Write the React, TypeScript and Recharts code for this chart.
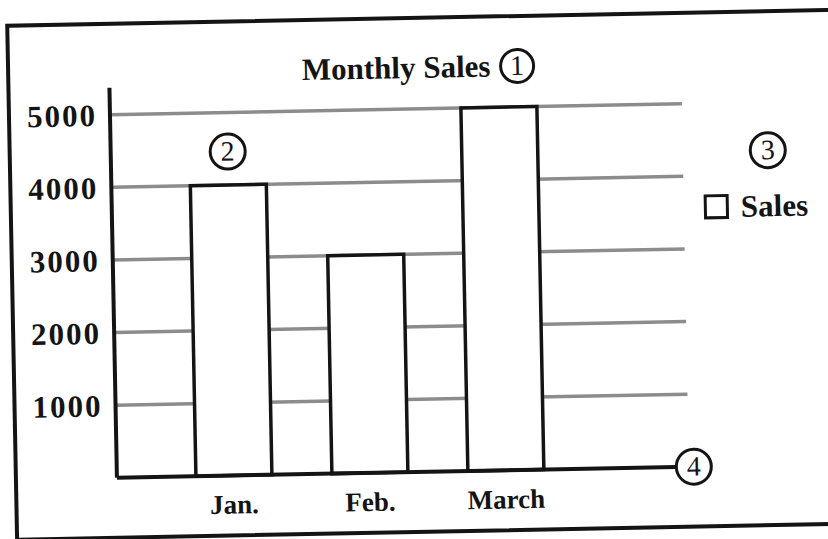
import React from 'react';
import { BarChart, Bar, XAxis, YAxis, CartesianGrid, Legend } from 'recharts';

const categories = ['Jan.', 'Feb.', 'March'];
const salesValues = [4000, 3000, 5000];
const yTicks = [1000, 2000, 3000, 4000, 5000];
const seriesName = 'Sales';
const chartTitle = 'Monthly Sales';

const data = categories.map((month, i) => ({ month, sales: salesValues[i] }));

const FONT = '"Liberation Serif", "Times New Roman", serif';
const INK = '#141414';

const Circled = ({ n, cx, cy, r }: { n: string; cx: number; cy: number; r: number }) => (
  <div
    style={{
      position: 'absolute',
      left: cx - r,
      top: cy - r,
      width: 2 * r,
      height: 2 * r,
      boxSizing: 'border-box',
      border: `3.5px solid ${INK}`,
      borderRadius: '50%',
      background: '#fff',
      display: 'flex',
      alignItems: 'center',
      justifyContent: 'center',
      fontFamily: FONT,
      fontSize: 28,
      color: INK,
      lineHeight: 1,
    }}
  >
    {n}
  </div>
);

const renderLegend = () => (
  <div style={{ display: 'flex', alignItems: 'center', fontFamily: FONT, color: INK }}>
    <div
      style={{
        width: 25,
        height: 25,
        boxSizing: 'border-box',
        border: `3px solid ${INK}`,
        background: '#fff',
        marginRight: 12,
      }}
    />
    <span style={{ fontSize: 31, fontWeight: 'bold', lineHeight: 1 }}>{seriesName}</span>
  </div>
);

export default function App() {
  return (
    <div
      style={{
        position: 'absolute',
        left: 0,
        top: 0,
        width: 828,
        height: 539,
        overflow: 'visible',
        transform: 'rotate(-1.1deg)',
        transformOrigin: '414px 270px',
      }}
    >
      <div
        style={{
          position: 'absolute',
          left: 10,
          top: 16,
          width: 900,
          height: 518,
          border: `4px solid ${INK}`,
          boxSizing: 'border-box',
        }}
      />
      <div style={{ position: 'absolute', left: 0, top: 0 }}>
        <BarChart
          width={828}
          height={539}
          data={data}
          margin={{ top: 82, right: 143, bottom: 27, left: 0 }}
        >
          <CartesianGrid
            vertical={false}
            horizontal
            horizontalValues={yTicks}
            stroke="#8c8c8c"
            strokeWidth={3.5}
          />
          <XAxis
            dataKey="month"
            height={40}
            padding={{ left: 49, right: 115 }}
            axisLine={{ stroke: INK, strokeWidth: 4 }}
            tickLine={false}
            tickSize={0}
            tickMargin={19}
            tick={{ fill: INK, fontSize: 27, fontWeight: 'bold', fontFamily: FONT }}
          />
          <YAxis
            type="number"
            domain={[0, 5370]}
            ticks={yTicks}
            width={113}
            axisLine={{ stroke: INK, strokeWidth: 4 }}
            tickLine={false}
            tickSize={0}
            tickMargin={13}
            tick={{ fill: INK, fontSize: 31, fontWeight: 'bold', fontFamily: FONT, letterSpacing: 2 }}
          />
          <Legend
            layout="horizontal"
            verticalAlign="middle"
            align="center"
            content={renderLegend}
            wrapperStyle={{ left: 705, top: 197, width: 130, height: 32 }}
          />
          <Bar
            dataKey="sales"
            name={seriesName}
            fill="#ffffff"
            stroke={INK}
            strokeWidth={3.5}
            barSize={76}
            isAnimationActive={false}
          />
        </BarChart>
      </div>
      <div
        style={{
          position: 'absolute',
          left: 250,
          top: 52,
          width: 300,
          textAlign: 'center',
          fontFamily: FONT,
          fontSize: 31,
          fontWeight: 'bold',
          lineHeight: '31px',
          color: INK,
        }}
      >
        {chartTitle}
      </div>
      <Circled n="1" cx={521} cy={68} r={18} />
      <Circled n="2" cx={230} cy={148} r={19} />
      <Circled n="3" cx={770} cy={157} r={19} />
      <Circled n="4" cx={690} cy={472} r={19} />
    </div>
  );
}
